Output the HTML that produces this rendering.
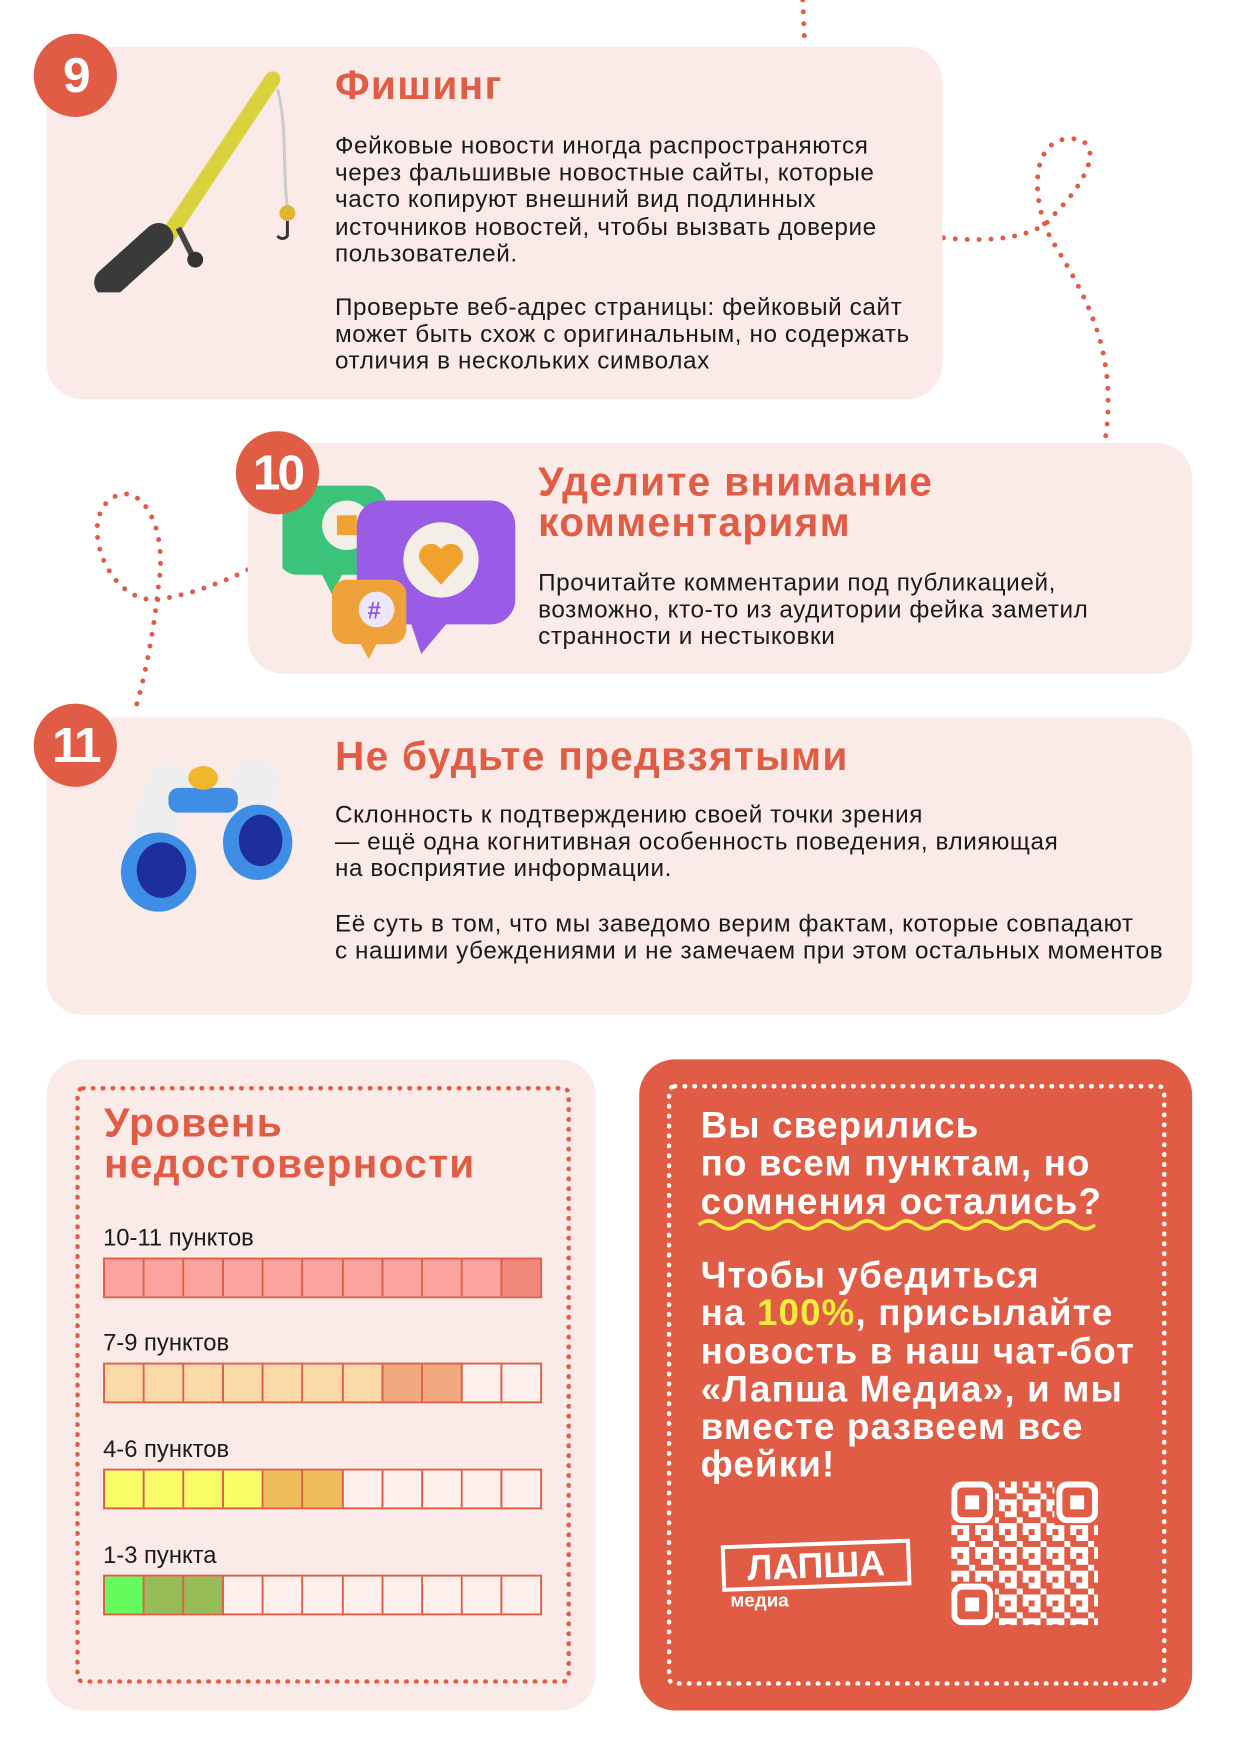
<!DOCTYPE html>
<html><head><meta charset="utf-8"><style>
*{margin:0;padding:0;box-sizing:border-box}
body{width:1241px;height:1754px;background:#fff;position:relative;overflow:hidden;font-family:"Liberation Sans","Noto Sans CJK SC",sans-serif;color:#1a1a1a}
#w{position:absolute;left:0;top:0;width:1241px;height:1754px;transform:scale(0.991);transform-origin:0 0}
.card{position:absolute;background:#fbebe8;border-radius:36px}
.num{position:absolute;width:84px;height:84px;border-radius:50%;background:#e05c45;color:#fff;font-weight:bold;font-size:50px;text-align:center;line-height:84px;letter-spacing:-3px}
.t{position:absolute;color:#e05c45;font-weight:bold;font-size:41px;line-height:41px;letter-spacing:1.3px}
.p{position:absolute;font-size:24.5px;line-height:27.2px;letter-spacing:0.6px}
.lbl{position:absolute;font-size:24px;left:104px}
.bar{position:absolute;left:104px;width:443px;height:41px;display:flex;border:2px solid #e05c45}
.bar div{flex:1;border-right:2px solid #e05c45;background:#fdf0ed}
.bar div:last-child{border-right:none}
.w{position:absolute;color:#fff;font-weight:bold;font-size:37px;line-height:38.3px;left:707px;letter-spacing:1.2px}
</style></head><body><div id="w">
<svg width="1241" height="1754" style="position:absolute;left:0;top:0" fill="none" stroke="#e05c45" stroke-width="5" stroke-linecap="round" stroke-dasharray="0 12">
<path d="M810 0 L812 45"/>
<path d="M952 240 C1000 245 1050 240 1065 215 C1100 180 1115 140 1080 140 C1040 140 1040 200 1060 240 C1090 290 1130 350 1115 445"/>
<path d="M250 575 C220 590 190 600 160 605 C110 610 80 530 110 505 C140 480 170 530 160 590 C155 640 145 690 135 720"/>
</svg>

<div class="card" style="left:47px;top:47px;width:904px;height:356px"></div>
<div class="num" style="left:34px;top:34px">9</div>
<svg style="position:absolute;left:85px;top:65px" width="220" height="230">
<line x1="190" y1="15" x2="80" y2="180" stroke="#d8d23c" stroke-width="16" stroke-linecap="round"/>
<path d="M195 25 C205 60 200 110 205 145" stroke="#ccc" stroke-width="3" fill="none"/>
<circle cx="205" cy="150" r="8" fill="#e0b630"/>
<path d="M205 158 v15 a6 6 0 0 1 -10 0" stroke="#333" stroke-width="3" fill="none"/>
<line x1="75" y1="175" x2="25" y2="220" stroke="#3a3a3a" stroke-width="30" stroke-linecap="round"/>
<line x1="95" y1="165" x2="110" y2="195" stroke="#444" stroke-width="6"/>
<circle cx="112" cy="197" r="8" fill="#333"/>
</svg>
<div class="t" style="left:338px;top:66px">Фишинг</div>
<div class="p" style="left:338px;top:134px">Фейковые новости иногда распространяются<br>через фальшивые новостные сайты, которые<br>часто копируют внешний вид подлинных<br>источников новостей, чтобы вызвать доверие<br>пользователей.</div>
<div class="p" style="left:338px;top:297px">Проверьте веб-адрес страницы: фейковый сайт<br>может быть схож с оригинальным, но содержать<br>отличия в нескольких символах</div>

<div class="card" style="left:250px;top:447px;width:953px;height:233px"></div>
<svg style="position:absolute;left:285px;top:470px" width="240" height="200">
<path d="M15 20 h70 a20 20 0 0 1 20 20 v50 a20 20 0 0 1 -20 20 h-25 l-10 20 l-10 -20 h-25 a20 20 0 0 1 -20 -20 v-50 a20 20 0 0 1 20 -20z" fill="#3cc37a"/>
<circle cx="65" cy="60" r="25" fill="#f3efe8"/><rect x="55" y="50" width="20" height="20" fill="#f0a12e"/>
<path d="M100 35 h110 a25 25 0 0 1 25 25 v75 a25 25 0 0 1 -25 25 h-45 l-25 30 l-10 -30 h-30 a25 25 0 0 1 -25 -25 v-75 a25 25 0 0 1 25 -25z" fill="#9a5ce6"/>
<circle cx="160" cy="95" r="38" fill="#f4eee8"/><path d="M160 120 l-20 -22 a12 12 0 0 1 20 -14 a12 12 0 0 1 20 14z" fill="#f0a12e"/>
<path d="M65 115 h45 a15 15 0 0 1 15 15 v35 a15 15 0 0 1 -15 15 h-15 l-8 15 l-8 -15 h-14 a15 15 0 0 1 -15 -15 v-35 a15 15 0 0 1 15 -15z" fill="#f0a23a"/>
<circle cx="95" cy="145" r="18" fill="#ece6f8"/><text x="86" y="154" font-size="24" font-weight="bold" fill="#8a5ce0" font-family="Liberation Sans">#</text>
</svg>
<div class="num" style="left:238px;top:435px">10</div>
<div class="t" style="left:543px;top:466px">Уделите внимание<br>комментариям</div>
<div class="p" style="left:543px;top:575px">Прочитайте комментарии под публикацией,<br>возможно, кто-то из аудитории фейка заметил<br>странности и нестыковки</div>

<div class="card" style="left:47px;top:724px;width:1156px;height:300px"></div>
<svg style="position:absolute;left:95px;top:750px" width="210" height="170">
<rect x="45" y="20" width="45" height="90" rx="18" fill="#eee" transform="rotate(20 67 65)"/>
<rect x="135" y="15" width="45" height="80" rx="18" fill="#eee" transform="rotate(20 157 55)"/>
<rect x="75" y="45" width="70" height="25" rx="10" fill="#3f8ee6"/>
<ellipse cx="65" cy="130" rx="38" ry="40" fill="#3f8ee6"/><ellipse cx="68" cy="128" rx="25" ry="28" fill="#1c2f9a"/>
<ellipse cx="165" cy="100" rx="35" ry="38" fill="#3f8ee6"/><ellipse cx="168" cy="98" rx="22" ry="26" fill="#1c2f9a"/>
<ellipse cx="110" cy="35" rx="15" ry="12" fill="#f2b52e"/>
</svg>
<div class="num" style="left:34px;top:710px">11</div>
<div class="t" style="left:338px;top:743px">Не будьте предвзятыми</div>
<div class="p" style="left:338px;top:809px">Склонность к подтверждению своей точки зрения<br>— ещё одна когнитивная особенность поведения, влияющая<br>на восприятие информации.</div>
<div class="p" style="left:338px;top:919px">Её суть в том, что мы заведомо верим фактам, которые совпадают<br>с нашими убеждениями и не замечаем при этом остальных моментов</div>

<div class="card" style="left:47px;top:1069px;width:554px;height:657px"></div>
<div style="position:absolute;left:76px;top:1096px;width:500px;height:603px;border:5px dotted #e05c45;border-radius:8px"></div>
<div class="t" style="left:105px;top:1113px">Уровень<br>недостоверности</div>
<div class="lbl" style="top:1236px">10-11 пунктов</div>
<div class="bar" style="top:1269px"><div style="background:#fda39f"></div><div style="background:#fda39f"></div><div style="background:#fda39f"></div><div style="background:#fda39f"></div><div style="background:#fda39f"></div><div style="background:#fda39f"></div><div style="background:#fda39f"></div><div style="background:#fda39f"></div><div style="background:#fda39f"></div><div style="background:#fda39f"></div><div style="background:#f0877b"></div></div>
<div class="lbl" style="top:1342px">7-9 пунктов</div>
<div class="bar" style="top:1375px"><div style="background:#fcd9a8"></div><div style="background:#fcd9a8"></div><div style="background:#fcd9a8"></div><div style="background:#fcd9a8"></div><div style="background:#fcd9a8"></div><div style="background:#fcd9a8"></div><div style="background:#fcd9a8"></div><div style="background:#f1a97f"></div><div style="background:#f1a97f"></div><div></div><div></div></div>
<div class="lbl" style="top:1449px">4-6 пунктов</div>
<div class="bar" style="top:1482px"><div style="background:#f9fd68"></div><div style="background:#f9fd68"></div><div style="background:#f9fd68"></div><div style="background:#f9fd68"></div><div style="background:#efbe5c"></div><div style="background:#efbe5c"></div><div></div><div></div><div></div><div></div><div></div></div>
<div class="lbl" style="top:1556px">1-3 пункта</div>
<div class="bar" style="top:1589px"><div style="background:#66fb5c"></div><div style="background:#95bc56"></div><div style="background:#95bc56"></div><div></div><div></div><div></div><div></div><div></div><div></div><div></div><div></div></div>

<div class="card" style="left:645px;top:1069px;width:558px;height:657px;background:#e05c45"></div>
<div style="position:absolute;left:673px;top:1094px;width:504px;height:607px;border:5px dotted #fff;border-radius:8px"></div>
<div class="w" style="top:1117px">Вы сверились<br>по всем пунктам, но<br>сомнения остались?</div>
<svg style="position:absolute;left:703px;top:1228px" width="420" height="16"><path d="M2 8 q10 -8 20 0 t20 0 t20 0 t20 0 t20 0 t20 0 t20 0 t20 0 t20 0 t20 0 t20 0 t20 0 t20 0 t20 0 t20 0 t20 0 t20 0 t20 0 t20 0 t20 0" stroke="#f4ec3c" stroke-width="3.5" fill="none"/></svg>
<div class="w" style="top:1268px">Чтобы убедиться<br>на <span style="color:#f4ec3c">100%</span>, присылайте<br>новость в наш чат-бот<br>«Лапша Медиа», и мы<br>вместе развеем все<br>фейки!</div>
<div style="position:absolute;left:728px;top:1556px;width:191px;height:47px;border:4px solid #fff;transform:rotate(-2deg);color:#fff;font-weight:bold;font-size:36px;line-height:40px;text-align:center">ЛАПША</div>
<div style="position:absolute;left:737px;top:1605px;color:#fff;font-weight:bold;font-size:19px">медиа</div>
<svg style="position:absolute;left:960px;top:1495px" width="148" height="145">
<defs><pattern id="q" width="24" height="24" patternUnits="userSpaceOnUse"><g fill="#fff"><rect x="0" y="0" width="6" height="6"/><rect x="12" y="0" width="6" height="12"/><rect x="6" y="6" width="6" height="6"/><rect x="18" y="12" width="6" height="6"/><rect x="0" y="18" width="12" height="6"/><rect x="12" y="18" width="6" height="6"/></g></pattern></defs>
<rect x="0" y="0" width="148" height="145" fill="url(#q)"/>
<g fill="#e05c45"><rect x="0" y="0" width="44" height="44"/><rect x="104" y="0" width="44" height="44"/><rect x="0" y="101" width="44" height="44"/></g>
<g fill="none" stroke="#fff" stroke-width="6"><rect x="3" y="3" width="36" height="36" rx="8"/><rect x="109" y="3" width="36" height="36" rx="8"/><rect x="3" y="106" width="36" height="36" rx="8"/></g>
<g fill="#fff"><rect x="14" y="14" width="14" height="14"/><rect x="120" y="14" width="14" height="14"/><rect x="14" y="117" width="14" height="14"/></g>
</svg>
</div></body></html>
